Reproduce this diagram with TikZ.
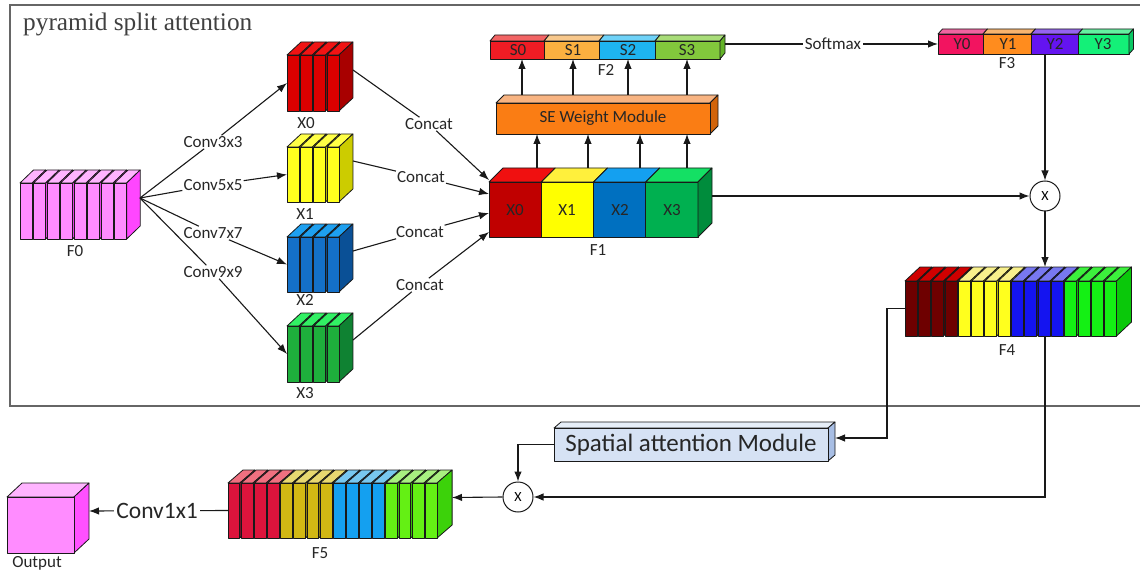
\documentclass[tikz,border=0pt]{standalone}
\usepackage{fontspec}
\setmainfont{Carlito}
\newfontfamily\titlefont{Liberation Serif}
\usetikzlibrary{arrows.meta}

% ---------- colours (F = front, T = top, S = side) ----------
\definecolor{pkF}{HTML}{FF8CFF}\definecolor{pkT}{HTML}{FFB4FF}\definecolor{pkS}{HTML}{FF46FF}
\definecolor{xaF}{HTML}{DC0000}\definecolor{xaT}{HTML}{F01414}\definecolor{xaS}{HTML}{A80000}
\definecolor{xbF}{HTML}{FFFF1E}\definecolor{xbT}{HTML}{FFFF46}\definecolor{xbS}{HTML}{CCCC00}
\definecolor{xcF}{HTML}{1470C8}\definecolor{xcT}{HTML}{1EA0F0}\definecolor{xcS}{HTML}{0A5096}
\definecolor{xdF}{HTML}{1EAF3C}\definecolor{xdT}{HTML}{32F064}\definecolor{xdS}{HTML}{0F8232}
\definecolor{faF}{HTML}{C00000}\definecolor{faT}{HTML}{F01010}
\definecolor{fbF}{HTML}{FFFF00}\definecolor{fbT}{HTML}{FFF03C}
\definecolor{fcF}{HTML}{0070C0}\definecolor{fcT}{HTML}{14A0F0}
\definecolor{fdF}{HTML}{00B050}\definecolor{fdT}{HTML}{14E064}\definecolor{fdS}{HTML}{008C3C}
\definecolor{seF}{HTML}{FA7D14}\definecolor{seT}{HTML}{F8B482}\definecolor{seS}{HTML}{D2640A}
\definecolor{saF}{HTML}{F01C24}\definecolor{saT}{HTML}{F26464}
\definecolor{sbF}{HTML}{FBB040}\definecolor{sbT}{HTML}{F8C88C}
\definecolor{scF}{HTML}{1EB4F0}\definecolor{scT}{HTML}{6ED2F8}
\definecolor{sdF}{HTML}{82C83C}\definecolor{sdT}{HTML}{A8DC78}\definecolor{sdS}{HTML}{64B428}
\definecolor{yaF}{HTML}{F21460}\definecolor{yaT}{HTML}{F064A0}
\definecolor{ybF}{HTML}{FF8C1E}\definecolor{ybT}{HTML}{F8B46E}
\definecolor{ycF}{HTML}{6414F0}\definecolor{ycT}{HTML}{9664F0}
\definecolor{ydF}{HTML}{14F078}\definecolor{ydT}{HTML}{64F0A0}\definecolor{ydS}{HTML}{0AC864}
\definecolor{frF}{HTML}{6E0000}\definecolor{frT}{HTML}{D00000}\definecolor{frS}{HTML}{500000}
\definecolor{fyF}{HTML}{FFFF1E}\definecolor{fyT}{HTML}{F8F08C}\definecolor{fyS}{HTML}{C8C800}
\definecolor{fuF}{HTML}{1414F0}\definecolor{fuT}{HTML}{7878F0}\definecolor{fuS}{HTML}{0A0AA0}
\definecolor{fgF}{HTML}{14F014}\definecolor{fgT}{HTML}{3CF03C}\definecolor{fgS}{HTML}{0AC80A}
\definecolor{grF}{HTML}{DC143C}\definecolor{grT}{HTML}{F07080}\definecolor{grS}{HTML}{A0102C}
\definecolor{gyF}{HTML}{D2B814}\definecolor{gyT}{HTML}{E8D870}\definecolor{gyS}{HTML}{A08C0A}
\definecolor{guF}{HTML}{14A0F0}\definecolor{guT}{HTML}{78C8F0}\definecolor{guS}{HTML}{0A78B4}
\definecolor{ggF}{HTML}{64F014}\definecolor{ggT}{HTML}{A8F080}\definecolor{ggS}{HTML}{3CD20A}
\definecolor{spF}{HTML}{D6E2F4}\definecolor{spT}{HTML}{E6EEF8}\definecolor{spS}{HTML}{A8BEE4}
\definecolor{ouF}{HTML}{FF8CFF}\definecolor{ouT}{HTML}{FFB4FF}\definecolor{ouS}{HTML}{FF50FF}

% a box seen from the front-right: x, y (top-left of front face), w, h, dx, dy, front, top, side
\newcommand{\cuboid}[9]{%
  \filldraw[face, fill=#8] ({#1},{#2}) -- ++({#5},{-#6}) -- ++({#3},0) -- ++({-#5},{#6}) -- cycle;
  \filldraw[face, fill=#9] ({#1+#3},{#2}) -- ++({#5},{-#6}) -- ++(0,{#4}) -- ++({-#5},{#6}) -- cycle;
  \filldraw[face, fill=#7] ({#1},{#2}) rectangle ++({#3},{#4});
}
% a row of thin plates: x, y, count, pitch, h, dx, dy, colour scheme
\newcommand{\plates}[8]{%
  \foreach \k in {1,...,#3}{%
    \pgfmathsetmacro\platex{#1+(\k-1)*#4}%
    \pgfmathsetmacro\platew{#4-1.3}%
    \cuboid{\platex}{#2}{\platew}{#5}{#6}{#7}{#8F}{#8T}{#8S}%
  }%
}
% a bar split into coloured sections: top y, h, dx, dy, list xleft/xright/front/top
\newcommand{\segbar}[5]{%
  \foreach \xa/\xb/\colF/\colT in {#5}{%
    \filldraw[face, fill=\colT] (\xa,#1) -- ++({#3},{-#4}) -- ({\xb+#3},{#1-#4}) -- (\xb,#1) -- cycle;
    \filldraw[face, fill=\colF] (\xa,#1) rectangle (\xb,{#1+#2});
  }%
}

\begin{document}
\begin{tikzpicture}[x=1pt, y=-1pt,
  face/.style={draw=black!90, line width=0.8pt, line join=round},
  wire/.style={draw=black!90, line width=1.1pt},
  arr/.style={wire, -{Latex[length=10pt,width=7.5pt]}},
  txt/.style={font=\fontsize{17}{19}\selectfont, text=black!85, inner sep=1pt},
  hold/.style={draw=none, inner sep=0pt, outer sep=0pt},
  mult/.style={circle, draw=black!90, line width=1pt, fill=white, minimum size=30pt,
               inner sep=0pt, font=\fontsize{14}{14}\selectfont},
]
\useasboundingbox (0,0) rectangle (1140,572);

% frame of the split-attention block
\draw[draw=black!60, line width=1.3pt] (1141,5) -- (10,5) -- (10,406) -- (1141,406);
\node[anchor=base west, inner sep=0pt, text=black!75,
      font=\titlefont\fontsize{25.3}{27}\selectfont] (title) at (23,31) {pyramid split attention};

% ---------- input F0 and the four branches ----------
\plates{20}{183}{8}{13.5}{56}{13.5}{13}{pk}
\node[hold, minimum width=106pt, minimum height=56pt] (F0) at (73,211) {};
\node[txt] (lF0) at (75,251) {F0};
\coordinate (F0out) at (140,198);

\plates{287}{55}{4}{13.3}{56}{14}{13}{xa}
\plates{287}{147}{4}{13.3}{55}{14}{13}{xb}
\plates{287}{237}{4}{13.3}{55}{14}{13}{xc}
\plates{287}{326}{4}{13.3}{56}{14}{13}{xd}
\node[hold, minimum width=52pt, minimum height=56pt] (X0) at (313,83) {};
\node[hold, minimum width=52pt, minimum height=55pt] (X1) at (313,174.5) {};
\node[hold, minimum width=52pt, minimum height=55pt] (X2) at (313,264.5) {};
\node[hold, minimum width=52pt, minimum height=56pt] (X3) at (313,354) {};
\node[txt] (lX0) at (306,123) {X0};
\node[txt] (lX1) at (305,214) {X1};
\node[txt] (lX2) at (305,300) {X2};
\node[txt] (lX3) at (305,393) {X3};
\coordinate (X0out) at (353,70);
\coordinate (X1out) at (353,161);
\coordinate (X2out) at (353,251);
\coordinate (X3out) at (353,340);

% ---------- F1 ----------
\segbar{182}{55}{14}{14}{489/541.25/faF/faT, 541.25/593.5/fbF/fbT, 593.5/645.75/fcF/fcT, 645.75/698/fdF/fdT}
\filldraw[face, fill=fdS] (698,182) -- ++(14,-14) -- ++(0,55) -- ++(-14,14) -- cycle;
\node[hold, minimum width=209pt, minimum height=55pt] (F1) at (593.5,209.5) {};
\node[txt] (tX0) at (515,210) {X0};
\node[txt] (tX1) at (567,210) {X1};
\node[txt] (tX2) at (620,210) {X2};
\node[txt] (tX3) at (672,210) {X3};
\node[txt] (lF1) at (598,250) {F1};
\coordinate (F1back) at (600,168);
\coordinate (F1out) at (712,196);
\coordinate (F1in0) at (489,180);
\coordinate (F1in1) at (489,194);
\coordinate (F1in2) at (489,213);
\coordinate (F1in3) at (489,232);

% ---------- SE weight module ----------
\cuboid{496}{103}{214}{31}{8}{8}{seF}{seT}{seS}
\node[hold, txt, minimum width=214pt, minimum height=31pt] (SE) at (603,118.5) {SE Weight Module};
\coordinate (SEback) at (603,95);

% ---------- F2 ----------
\segbar{41}{18}{5}{6}{490/544/saF/saT, 544/599/sbF/sbT, 599/655/scF/scT, 655/720/sdF/sdT}
\filldraw[face, fill=sdS] (720,41) -- ++(5,-6) -- ++(0,18) -- ++(-5,6) -- cycle;
\node[hold, minimum width=230pt, minimum height=18pt] (F2) at (605,50) {};
\node[txt] (tS0) at (518,50) {S0};
\node[txt] (tS1) at (573,50) {S1};
\node[txt] (tS2) at (628,50) {S2};
\node[txt] (tS3) at (687,50) {S3};
\node[txt] (lF2) at (606,70) {F2};
\coordinate (F2out) at (725,44);

% ---------- F3 ----------
\segbar{34}{20}{4.5}{5}{938/983/yaF/yaT, 983/1031/ybF/ybT, 1031/1078/ycF/ycT, 1078/1129/ydF/ydT}
\filldraw[face, fill=ydS] (1129,34) -- ++(4.5,-5) -- ++(0,20) -- ++(-4.5,5) -- cycle;
\node[hold, minimum width=191pt, minimum height=20pt] (F3) at (1033.5,44) {};
\node[txt] (tY0) at (962,44) {Y0};
\node[txt] (tY1) at (1008,44) {Y1};
\node[txt] (tY2) at (1055,44) {Y2};
\node[txt] (tY3) at (1103,44) {Y3};
\node[txt] (lF3) at (1007,63) {F3};

% ---------- F4 ----------
\plates{905}{281}{4}{13.3}{55}{15}{14}{fr}
\plates{958.2}{281}{4}{13.3}{55}{15}{14}{fy}
\plates{1011.4}{281}{4}{13.3}{55}{15}{14}{fu}
\plates{1064.6}{281}{4}{13.3}{55}{15}{14}{fg}
\node[hold, minimum width=212pt, minimum height=55pt] (F4) at (1011,308.5) {};
\node[txt] (lF4) at (1007,350) {F4};
\coordinate (F4back) at (1010,267);

% ---------- spatial attention module ----------
\cuboid{554}{428}{274}{33}{7}{6}{spF}{spT}{spS}
\node[hold, minimum width=274pt, minimum height=33pt, text=black!85,
      font=\fontsize{25}{27}\selectfont] (SAM) at (691,444.5) {Spatial attention Module};
\coordinate (SAMout) at (835,438);

% ---------- F5 ----------
\plates{228}{483}{4}{13.15}{55}{15}{13}{gr}
\plates{280.6}{483}{4}{13.15}{55}{15}{13}{gy}
\plates{333.2}{483}{4}{13.15}{55}{15}{13}{gu}
\plates{385.8}{483}{4}{13.15}{55}{15}{13}{gg}
\node[hold, minimum width=210pt, minimum height=55pt] (F5) at (333,510.5) {};
\node[txt] (lF5) at (320,553) {F5};
\coordinate (F5out) at (452,497.5);

% ---------- output ----------
\cuboid{7}{497}{67}{56}{15}{14}{ouF}{ouT}{ouS}
\node[hold, minimum width=67pt, minimum height=56pt] (OUT) at (40.5,525) {};
\node[txt] (lOUT) at (37,563) {Output};
\coordinate (OUTin) at (89,511);

% ---------- multiplications ----------
\node[mult] (M1) at (1045,196) {X};
\node[mult] (M2) at (518,497) {X};

% ---------- connectors ----------
\node[txt] (cv0) at (213,142) {Conv3x3};
\node[txt] (cv1) at (213,185) {Conv5x5};
\node[txt] (cv2) at (213,233) {Conv7x7};
\node[txt] (cv3) at (213,272) {Conv9x9};
\draw[arr] (F0out) -- (cv0) -- (X0.west);
\draw[arr] (F0out) -- (cv1) -- (X1.west);
\draw[arr] (F0out) -- (cv2) -- (X2.west);
\draw[arr] (F0out) -- (cv3) -- (X3.west);

\node[txt] (cc0) at (429,124) {Concat};
\node[txt] (cc1) at (421,177) {Concat};
\node[txt] (cc2) at (420,232) {Concat};
\node[txt] (cc3) at (420,285) {Concat};
\draw[arr] (X0out) -- (cc0) -- (F1in0);
\draw[arr] (X1out) -- (cc1) -- (F1in1);
\draw[arr] (X2out) -- (cc2) -- (F1in2);
\draw[arr] (X3out) -- (cc3) -- (F1in3);

\foreach \x in {537,588,640,687}
  \draw[arr] (F1back -| \x,0) -- (SE.south -| \x,0);
\foreach \x in {522,573,628,687}
  \draw[arr] (SEback -| \x,0) -- (F2.south -| \x,0);

\draw[arr] (F2out) -- node[txt, fill=white, pos=0.507, inner sep=2pt] (lsm) {Softmax} (F3.west);
\draw[arr] (M1 |- F3.south) -- (M1.north);
\draw[arr] (F1out) -- (M1.west);
\draw[arr] (M1.south) -- (M1 |- F4back);

\draw[arr] (F4.west) -- ++(-18,0) |- (SAMout);
\draw[arr] (SAM.west) -| (M2.north);
\draw[arr] (F4.south -| M1) |- (M2.east);
\draw[arr] (M2.west) -- (F5out);
\draw[arr] (F5.west) -- node[fill=white, pos=0.51, inner sep=2pt, text=black!85,
      font=\fontsize{23.5}{25}\selectfont] (lc1) {Conv1x1} (OUTin);
\end{tikzpicture}
\end{document}
